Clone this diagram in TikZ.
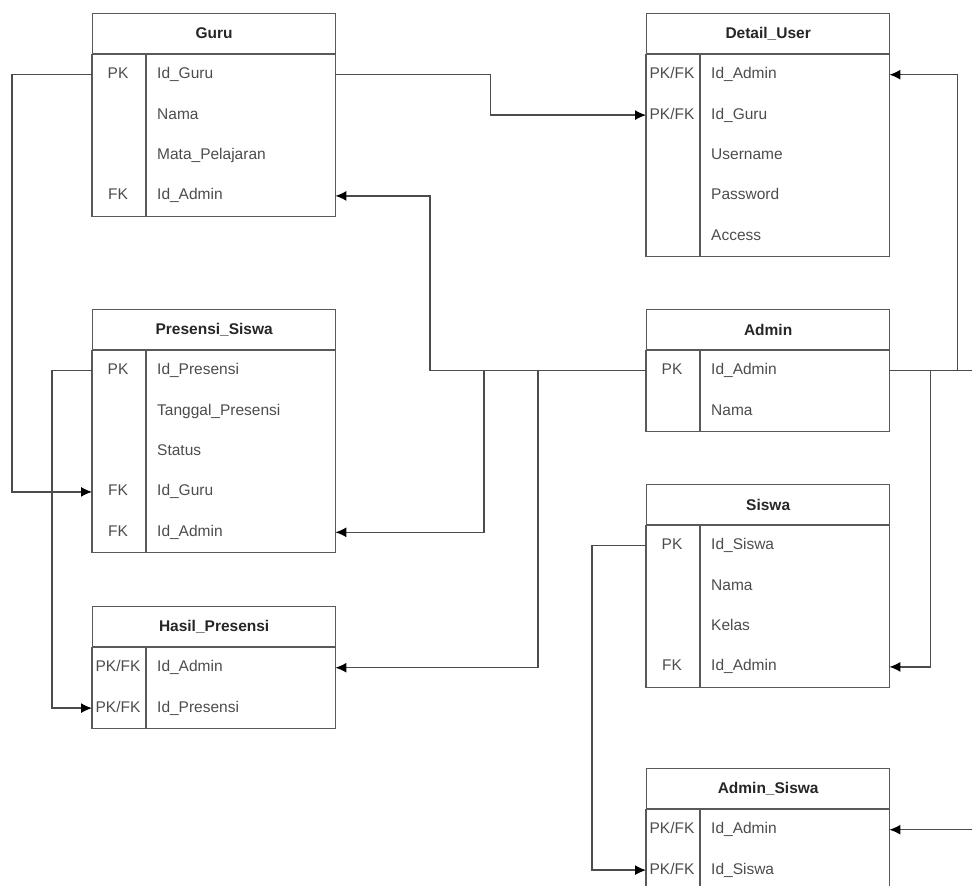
\documentclass[tikz,border=0pt]{standalone}
\usepackage{fontspec}
\setmainfont{Liberation Sans}
\usetikzlibrary{arrows.meta,calc,positioning}

% one entity: name, top left corner, title, rows key/field
\newcommand{\erd}[4]{%
  \node[hdr, anchor=north west] (#1) at (#2) {#3};
  \foreach \k/\f [count=\i] in {#4} {
    \node[row, anchor=north west] (#1-\i) at ([yshift={-(\i-1)*40.4}]#1.south west) {};
    \node[keytxt] at ([xshift=26pt]#1-\i.west) {\k};
    \node[fldtxt] at ([xshift=65pt]#1-\i.west) {\f};
    \xdef\lastrow{\i}
  }
  \draw[tbl] (#1.south west) rectangle (#1-\lastrow.south east);
  \draw[tbl] ([xshift=54pt]#1.south west) -- ([xshift=54pt]#1-\lastrow.south west);
}

\begin{document}
\begin{tikzpicture}[x=1pt,y=-1pt]
	\tikzset{tbl/.style = {draw=black!65, line width=1.3pt}}
	\tikzset{hdr/.style = {tbl, minimum width=243pt, minimum height=40pt, inner sep=0pt,
		text=black!85, font=\fontsize{15.5}{18}\selectfont\bfseries}}
	\tikzset{row/.style = {minimum width=243pt, minimum height=40.4pt, inner sep=0pt}}
	\tikzset{keytxt/.style = {inner sep=0pt, text height=11pt, text depth=3pt,
		text=black!70, font=\fontsize{15.5}{18}\selectfont}}
	\tikzset{fldtxt/.style = {keytxt, anchor=west}}
	\tikzset{fk/.style = {draw=black!70, line width=1.3pt, -{Latex[length=11pt,width=10pt,black]}}}
	\useasboundingbox (0,0) rectangle (972,886);

	\erd{guru}{92,13}{Guru}{PK/Id\_Guru, {}/Nama, {}/Mata\_Pelajaran, FK/Id\_Admin}
	\erd{user}{646,13}{Detail\_User}{{PK/FK}/Id\_Admin, {PK/FK}/Id\_Guru, {}/Username, {}/Password, {}/Access}
	\erd{pres}{92,309}{Presensi\_Siswa}{PK/Id\_Presensi, {}/Tanggal\_Presensi, {}/Status, FK/Id\_Guru, FK/Id\_Admin}
	\erd{admin}{646,309}{Admin}{PK/Id\_Admin, {}/Nama}
	\erd{siswa}{646,484}{Siswa}{PK/Id\_Siswa, {}/Nama, {}/Kelas, FK/Id\_Admin}
	\erd{hasil}{92,606}{Hasil\_Presensi}{{PK/FK}/Id\_Admin, {PK/FK}/Id\_Presensi}
	\erd{asiswa}{646,768}{Admin\_Siswa}{{PK/FK}/Id\_Admin, {PK/FK}/Id\_Siswa}

	% relations
	\draw[fk] (guru-1.west) -- ++(-80,0) |- (pres-4.west);
	\draw[fk] (guru-1.east) -- ++(155,0) |- (user-2.west);
	\draw[fk] (admin-1.west) -- ++(-216,0) |- (guru-4.east);
	\draw[fk] (admin-1.west) -- ++(-162,0) |- (pres-5.east);
	\draw[fk] (admin-1.west) -- ++(-108,0) |- (hasil-1.east);
	\draw[fk] (admin-1.east) -- ++(41,0) |- (siswa-4.east);
	\draw[fk] (admin-1.east) -- ++(68,0) |- (user-1.east);
	\draw[fk] (admin-1.east) -- ++(95,0) |- (asiswa-1.east);
	\draw[fk] (pres-1.west) -- ++(-40,0) |- (hasil-2.west);
	\draw[fk] (siswa-1.west) -- ++(-54,0) |- (asiswa-2.west);
\end{tikzpicture}
\end{document}
